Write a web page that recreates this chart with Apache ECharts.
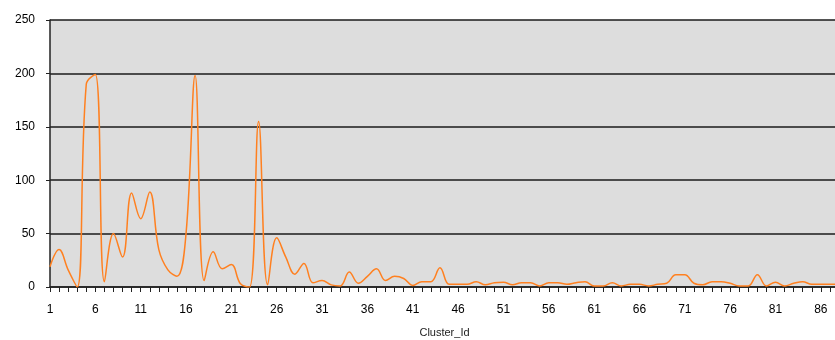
<!DOCTYPE html>
<html>
<head>
    <meta charset="UTF-8">
    <title>Cluster_Id</title>
    <script src="https://cdn.jsdelivr.net/npm/echarts@6/dist/echarts.min.js"></script>
    <style>
        html, body { margin: 0; padding: 0; background: #ffffff; }
        #main { width: 835px; height: 340px; }
    </style>
</head>
<body>
<div id="main"></div>
<script type="text/javascript">
    // cluster ids 1..88
    var clusterIds = [];
    for (var i = 1; i <= 88; i++) { clusterIds.push(String(i)); }

    // values
    var counts = [
        19, 35, 16, 0, 190, 199, 5, 50, 28, 88,
        64, 89, 35, 16, 10, 50, 198, 6, 33, 17,
        21, 3, 0, 155, 2, 46, 28, 12, 22, 4,
        6, 2, 1, 14, 3.5, 10, 17, 6, 10, 8,
        1.5, 5, 5, 18, 2.5, 2.5, 2.5, 5, 2, 4,
        4.5, 2, 4, 4, 1, 4, 4, 2.5, 4, 5,
        1, 1, 4, 1, 2.5, 2.5, 1, 2.5, 3.5, 11.5,
        11.5, 3.5, 2, 5, 5, 3.5, 1, 1, 11.5, 1,
        4.5, 1, 3.5, 5, 2.5, 2.5, 2.5, 2.5
    ];

    var yTicks = [0, 50, 100, 150, 200, 250];

    var chart = echarts.init(document.getElementById('main'));
    var option = {
        backgroundColor: '#ffffff',
        animation: false,
        grid: {
            left: 50,
            right: -4,
            top: 20,
            bottom: 53,
            outerBoundsMode: 'none',
            containLabel: false,
            show: true,
            backgroundColor: '#dddddd',
            borderWidth: 0
        },
        xAxis: {
            type: 'category',
            data: clusterIds,
            boundaryGap: false,
            name: 'Cluster_Id',
            nameLocation: 'middle',
            nameGap: 40,
            nameTextStyle: { color: '#222222', fontSize: 11, fontFamily: 'Liberation Sans' },
            axisLine: { lineStyle: { color: '#222222', width: 1.5 } },
            axisTick: { interval: 0, length: 5, lineStyle: { color: '#222222' } },
            axisLabel: {
                interval: 4,
                color: '#000000',
                fontSize: 12,
                fontFamily: 'Liberation Sans',
                margin: 17
            },
            splitLine: { show: false }
        },
        yAxis: {
            type: 'value',
            min: yTicks[0],
            max: yTicks[yTicks.length - 1],
            interval: 50,
            axisLine: { show: true, lineStyle: { color: '#222222', width: 1.5 } },
            axisTick: { show: true, length: 4, lineStyle: { color: '#222222' } },
            axisLabel: {
                color: '#000000',
                fontSize: 12,
                fontFamily: 'Liberation Sans',
                margin: 15
            },
            splitLine: { show: true, lineStyle: { color: '#1a1a1a', width: 1.5 } }
        },
        series: [
            {
                type: 'line',
                data: counts,
                smooth: 0.4,
                showSymbol: false,
                lineStyle: { color: '#ff8020', width: 1.5 }
            }
        ]
    };
    chart.setOption(option);
</script>
</body>
</html>
